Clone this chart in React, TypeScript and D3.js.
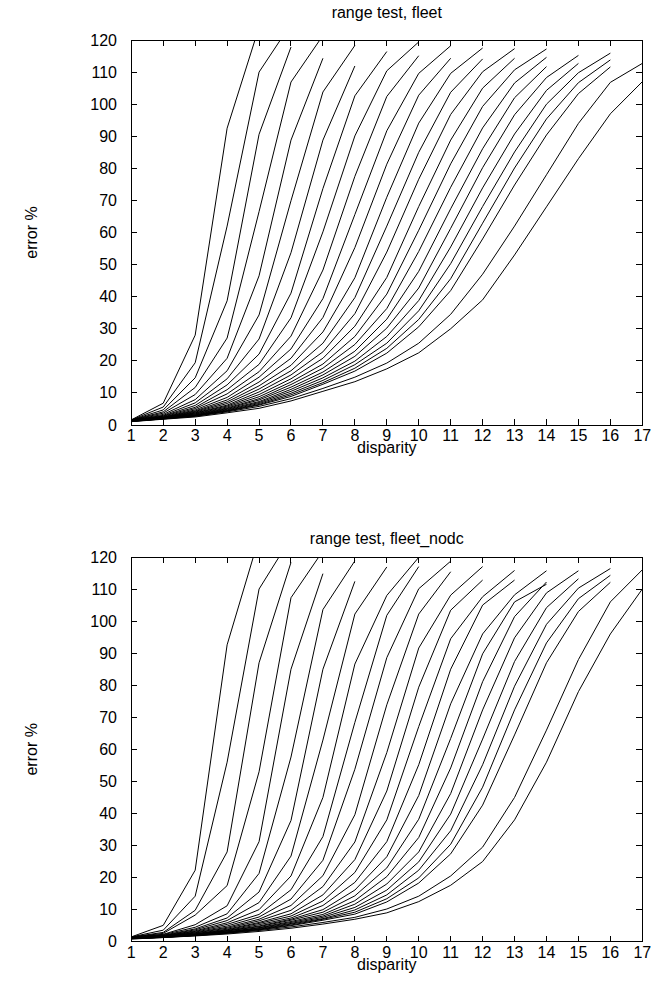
import * as d3 from 'd3';

// disparity 1..17, error % ticks
const DISPARITY = [1, 2, 3, 4, 5, 6, 7, 8, 9, 10, 11, 12, 13, 14, 15, 16, 17];
const ERROR_TICKS = [0, 10, 20, 30, 40, 50, 60, 70, 80, 90, 100, 110, 120];

// each row: error % at disparity 1, 2, 3, ... (row stops where the curve stops)
const FLEET: number[][] = [
  [1.6, 6.8, 28, 92.5, 124],
  [1.58, 5.6, 19.4, 62, 110, 125],
  [1.56, 4.7, 14.7, 38.7, 90.6, 117.8],
  [1.54, 4.1, 11.7, 27.1, 66.5, 106.9, 121.4],
  [1.52, 3.7, 9.5, 20.8, 46.5, 88.8, 114.3],
  [1.5, 3.3, 7.9, 16.9, 34.3, 69.9, 103.8, 118.3],
  [1.48, 3.0, 6.9, 14.4, 26.8, 53.7, 88.8, 111.9],
  [1.46, 2.8, 6.1, 12.5, 22.1, 41.1, 73.7, 102.6, 116.4],
  [1.44, 2.7, 5.5, 11.0, 18.9, 33.4, 60.2, 90.1, 110.4, 119.4],
  [1.42, 2.5, 5.1, 9.7, 16.6, 27.7, 48.3, 77.5, 102.4, 115.1],
  [1.4, 2.4, 4.7, 8.6, 14.9, 23.7, 39.4, 65.6, 91.7, 109.6, 118.2],
  [1.38, 2.4, 4.4, 7.8, 13.4, 20.8, 33.5, 55.3, 81.3, 102.8, 114.3],
  [1.36, 2.3, 4.2, 7.2, 12.2, 18.6, 29, 45.9, 71, 94.1, 109.6, 117.5],
  [1.34, 2.2, 4.0, 6.7, 11.2, 16.9, 25.5, 39.7, 62, 85, 103.7, 114.1],
  [1.32, 2.2, 3.8, 6.2, 10.3, 15.6, 22.8, 34.7, 53.9, 76.6, 96.8, 110.1, 117.3],
  [1.3, 2.2, 3.7, 5.9, 9.5, 14.4, 20.8, 30.8, 46, 68.1, 88.8, 105, 114.3],
  [1.28, 2.1, 3.5, 5.6, 8.8, 13.4, 19.0, 27.6, 40.8, 60.7, 81.4, 99.3, 110.7, 117.2],
  [1.26, 2.1, 3.4, 5.3, 8.2, 12.6, 17.7, 25.1, 36.3, 54.1, 74.1, 92.6, 106.6, 114.6],
  [1.24, 2.1, 3.2, 5.1, 7.8, 11.8, 16.5, 23, 33, 47.9, 67.4, 86.1, 102, 111.7],
  [1.22, 2.0, 3.1, 4.9, 7.3, 11.1, 15.6, 21.4, 30.2, 42.7, 61.3, 80.2, 96.7, 108.3, 115.2],
  [1.2, 2.0, 3.0, 4.7, 7.0, 10.5, 14.7, 19.9, 27.6, 38.8, 55.5, 73.9, 90.7, 104.3, 112.7],
  [1.18, 2.0, 3.0, 4.5, 6.7, 9.9, 13.9, 18.8, 25.5, 35.6, 50.3, 68.1, 85.1, 100, 109.8, 115.9],
  [1.16, 2.0, 2.9, 4.4, 6.4, 9.4, 13.2, 17.7, 23.9, 32.9, 45.6, 62.9, 80.1, 95.4, 106.7, 113.8],
  [1.14, 1.9, 2.8, 4.3, 6.2, 8.9, 12.7, 16.8, 22.4, 30.6, 41.9, 58, 74.8, 90.4, 103.3, 111.6],
  [1.1, 1.9, 2.7, 4.1, 5.8, 8.2, 11.4, 14.9, 19.3, 25.5, 34.5, 47, 62, 78, 94, 106.8, 112.7],
  [1.04, 1.8, 2.5, 3.8, 5.2, 7.5, 10.5, 13.5, 17.5, 22.5, 30, 39, 53, 68, 83, 97, 107],
];

const FLEET_NODC: number[][] = [
  [1.5, 5.1, 22.3, 92.6, 126],
  [1.48, 3.6, 14.2, 56, 110, 126],
  [1.45, 2.9, 9.8, 28, 87, 118.3],
  [1.43, 2.6, 8.3, 17.5, 53, 107.3, 121.9],
  [1.4, 2.3, 5.3, 11.2, 31.2, 85, 114.8],
  [1.38, 2.2, 4.5, 8.7, 21.3, 57.6, 103.6, 118.8],
  [1.36, 2.0, 4.0, 7.4, 15.5, 37.8, 85, 112.4],
  [1.33, 1.9, 3.7, 6.6, 12.2, 26.7, 62.9, 102.2, 116.9],
  [1.31, 1.8, 3.4, 5.9, 10.0, 20.5, 45, 86.6, 108, 119.9],
  [1.28, 1.8, 3.2, 5.4, 8.5, 16.2, 32.8, 68.4, 101.8, 117],
  [1.26, 1.7, 3.0, 4.9, 7.7, 13.3, 25.4, 53.8, 88.6, 110.1, 118.7],
  [1.24, 1.7, 2.8, 4.5, 7.0, 11.3, 20.6, 39.6, 73.9, 102.2, 115.4],
  [1.21, 1.6, 2.7, 4.2, 6.5, 9.8, 17.2, 31.1, 59, 91.6, 108.1, 117],
  [1.19, 1.6, 2.5, 3.9, 6.0, 8.7, 14.6, 25.6, 47, 79.4, 103.4, 112.8],
  [1.16, 1.6, 2.4, 3.7, 5.7, 8.0, 12.7, 21.6, 38, 67.1, 94.5, 107.6, 115.8],
  [1.14, 1.5, 2.3, 3.5, 5.3, 7.4, 11.3, 18.5, 31.2, 55.2, 85, 105, 112.8],
  [1.12, 1.5, 2.3, 3.4, 4.9, 7.0, 10.0, 16.1, 26.5, 45.6, 74.2, 96, 108.2, 115.7],
  [1.09, 1.5, 2.2, 3.3, 4.7, 6.7, 9.2, 14.3, 23, 38.2, 63.4, 89.8, 106, 111.5],
  [1.07, 1.5, 2.1, 3.1, 4.4, 6.3, 8.5, 12.8, 20.3, 32.5, 54.2, 81.1, 101.4, 112.2],
  [1.04, 1.4, 2.1, 3.0, 4.3, 6.0, 8.0, 11.7, 18, 28, 46.2, 72.3, 94.8, 108.8, 115.7],
  [1.02, 1.4, 2.0, 2.9, 4.1, 5.7, 7.6, 10.7, 16.1, 24.9, 39.8, 63.2, 87.4, 104.2, 113.2],
  [1.0, 1.4, 2.0, 2.9, 3.9, 5.5, 7.2, 9.9, 14.6, 22.3, 34.6, 55.2, 79.7, 99, 110.3, 116.4],
  [0.97, 1.4, 2.0, 2.8, 3.8, 5.2, 7.0, 9.2, 13.4, 19.9, 30.4, 48.2, 72.3, 93.2, 107, 114.3],
  [0.95, 1.4, 1.9, 2.7, 3.7, 5.0, 6.7, 8.6, 12.4, 18.3, 27.4, 42.6, 64.5, 87, 103, 112.1],
  [0.9, 1.3, 1.9, 2.6, 3.5, 4.6, 6.0, 7.6, 10.2, 14.2, 20.5, 29.5, 45, 66, 88, 106, 116],
  [0.83, 1.3, 1.8, 2.4, 3.2, 4.2, 5.5, 7.0, 9.0, 12.5, 17.6, 25, 38, 56, 78, 96, 110],
];

const W = 657;
const H = 999;
const LEFT = 131.3;
const RIGHT = 642.3;
const FONT = '"Liberation Sans", Arial, Helvetica, sans-serif';
const TICK = 6;

type PanelProps = {
  id: string;
  title: string;
  series: number[][];
  top: number;
  bottom: number;
  titleY: number;
};

function Panel({ id, title, series, top, bottom, titleY }: PanelProps) {
  const x = d3.scaleLinear().domain([1, 17]).range([LEFT, RIGHT]);
  const y = d3.scaleLinear().domain([0, 120]).range([bottom, top]);
  const line = d3
    .line<number>()
    .x((_, i) => x(DISPARITY[i]))
    .y((v) => y(v));
  const cx = (LEFT + RIGHT) / 2;
  const cy = (top + bottom) / 2;

  return (
    <g>
      <defs>
        <clipPath id={id}>
          <rect x={LEFT} y={top} width={RIGHT - LEFT} height={bottom - top} />
        </clipPath>
      </defs>

      <text x={cx} y={titleY} textAnchor="middle" fontSize={16}>
        {title}
      </text>

      <g clipPath={`url(#${id})`}>
        {series.map((s, i) => (
          <path key={i} d={line(s) ?? ''} fill="none" stroke="#000" strokeWidth={1} />
        ))}
      </g>

      <g shapeRendering="crispEdges" stroke="#000" strokeWidth={1}>
        {ERROR_TICKS.map((t) => (
          <g key={`y${t}`}>
            <line x1={LEFT} x2={LEFT + TICK} y1={y(t)} y2={y(t)} />
            <line x1={RIGHT} x2={RIGHT - TICK} y1={y(t)} y2={y(t)} />
          </g>
        ))}
        {DISPARITY.map((d) => (
          <g key={`x${d}`}>
            <line x1={x(d)} x2={x(d)} y1={bottom} y2={bottom - TICK} />
            <line x1={x(d)} x2={x(d)} y1={top} y2={top + TICK} />
          </g>
        ))}
        <rect x={LEFT} y={top} width={RIGHT - LEFT} height={bottom - top} fill="none" />
      </g>

      {ERROR_TICKS.map((t) => (
        <text key={`yl${t}`} x={117} y={y(t) + 5.5} textAnchor="end" fontSize={16}>
          {t}
        </text>
      ))}
      {DISPARITY.map((d) => (
        <text key={`xl${d}`} x={x(d)} y={bottom + 16} textAnchor="middle" fontSize={16}>
          {d}
        </text>
      ))}
      <text x={cx} y={bottom + 28} textAnchor="middle" fontSize={16}>
        disparity
      </text>
      <text
        transform={`translate(37,${cy}) rotate(-90)`}
        textAnchor="middle"
        fontSize={16}
      >
        error %
      </text>
    </g>
  );
}

export default function App() {
  return (
    <svg
      width={W}
      height={H}
      style={{ position: 'absolute', left: 0, top: 0, background: '#fff' }}
      fontFamily={FONT}
    >
      <rect width={W} height={H} fill="#fff" />
      <Panel id="clip-fleet" title="range test, fleet" series={FLEET} top={40} bottom={425} titleY={18} />
      <Panel
        id="clip-nodc"
        title="range test, fleet_nodc"
        series={FLEET_NODC}
        top={557}
        bottom={941.7}
        titleY={544}
      />
    </svg>
  );
}
